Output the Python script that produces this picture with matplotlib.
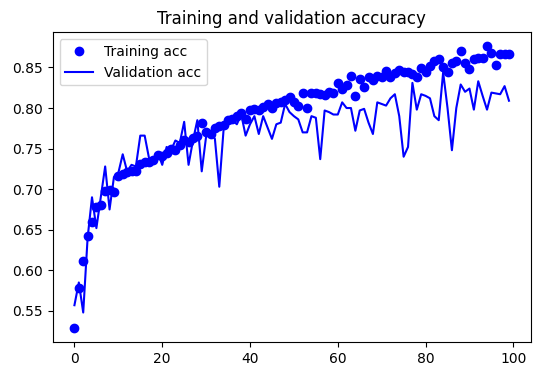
import matplotlib
matplotlib.use("Agg")
import matplotlib.pyplot as plt

title = "Training and validation accuracy"
train_label = "Training acc"
val_label = "Validation acc"

train_acc = [
    0.529, 0.578, 0.611, 0.642, 0.660, 0.678, 0.681, 0.698, 0.699, 0.697,
    0.716, 0.719, 0.721, 0.723, 0.722, 0.731, 0.733, 0.734, 0.736, 0.742,
    0.741, 0.745, 0.750, 0.748, 0.755, 0.760, 0.758, 0.763, 0.766, 0.781,
    0.770, 0.768, 0.775, 0.778, 0.779, 0.785, 0.786, 0.790, 0.794, 0.787,
    0.797, 0.799, 0.798, 0.801, 0.805, 0.800, 0.806, 0.808, 0.810, 0.813,
    0.808, 0.803, 0.819, 0.800, 0.818, 0.818, 0.817, 0.816, 0.820, 0.818,
    0.831, 0.824, 0.828, 0.840, 0.815, 0.836, 0.826, 0.838, 0.834, 0.840,
    0.838, 0.846, 0.838, 0.843, 0.847, 0.844, 0.845, 0.842, 0.838, 0.849,
    0.845, 0.852, 0.858, 0.860, 0.850, 0.845, 0.856, 0.858, 0.870, 0.856,
    0.848, 0.861, 0.862, 0.862, 0.876, 0.868, 0.853, 0.867, 0.866, 0.866,
]

val_acc = [
    0.557, 0.585, 0.548, 0.640, 0.690, 0.652, 0.690, 0.728, 0.675, 0.715,
    0.720, 0.743, 0.722, 0.730, 0.728, 0.766, 0.766, 0.738, 0.736, 0.745,
    0.730, 0.752, 0.748, 0.760, 0.757, 0.783, 0.730, 0.760, 0.785, 0.722,
    0.765, 0.770, 0.762, 0.703, 0.775, 0.782, 0.785, 0.780, 0.792, 0.766,
    0.780, 0.790, 0.768, 0.790, 0.776, 0.762, 0.780, 0.782, 0.805, 0.795,
    0.790, 0.786, 0.770, 0.770, 0.790, 0.788, 0.737, 0.797, 0.795, 0.792,
    0.792, 0.807, 0.800, 0.800, 0.772, 0.797, 0.799, 0.782, 0.768, 0.807,
    0.805, 0.803, 0.812, 0.817, 0.790, 0.740, 0.752, 0.831, 0.798, 0.817,
    0.815, 0.812, 0.790, 0.785, 0.844, 0.800, 0.748, 0.800, 0.829, 0.820,
    0.824, 0.798, 0.833, 0.815, 0.798, 0.819, 0.818, 0.817, 0.827, 0.809,
]

epochs = list(range(len(train_acc)))

fig = plt.figure(figsize=(5.39, 3.78), dpi=100)
ax = fig.add_axes([0.0978, 0.0952, 0.8868, 0.8194])
ax.plot(epochs, train_acc, 'bo', label=train_label)
ax.plot(epochs, val_acc, 'b', label=val_label)
ax.set_title(title)
ax.set_xticks([0, 20, 40, 60, 80, 100])
ax.legend(loc='upper left')
fig.savefig("out.png", dpi=100)
